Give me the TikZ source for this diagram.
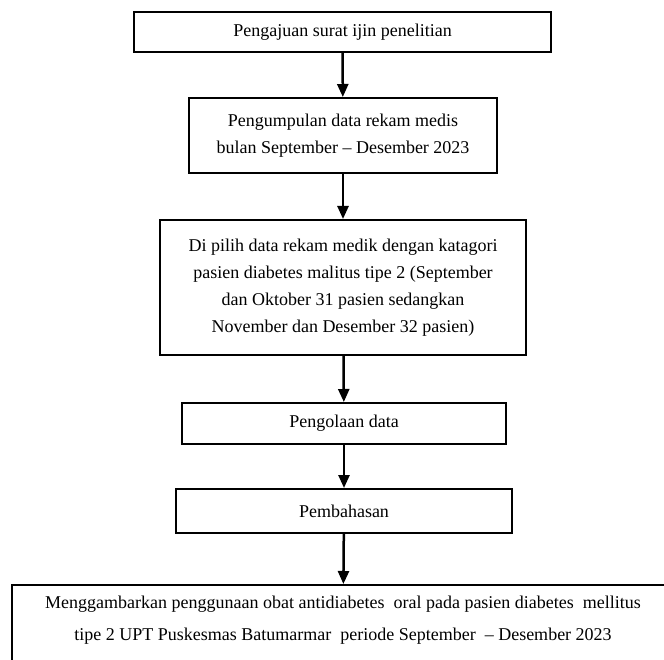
\documentclass[tikz,border=0pt]{standalone}
\usepackage{fontspec}
\setmainfont{Liberation Serif}
\usepackage{tikz}
\usetikzlibrary{arrows.meta}
\usetikzlibrary{positioning}

\begin{document}
\begin{tikzpicture}[x=1pt,y=-1pt]
		\useasboundingbox (0,0) rectangle (664,660);
		\clip (0,0) rectangle (664,660);
		\begin{scope}[every node/.style={rectangle,draw,line width=2pt,inner sep=0pt,align=center,font=\fontsize{18}{27}\selectfont}]
			\node[minimum width=417,minimum height=40] (ijin) at (342.5,32) {Pengajuan surat ijin penelitian};
			\node[minimum width=308,minimum height=75] (kumpul) at (343,135.5) {Pengumpulan data rekam medis\\bulan September – Desember 2023};
			\node[minimum width=366,minimum height=135] (pilih) at (343,287.5) {Di pilih data rekam medik dengan katagori\\pasien diabetes malitus tipe 2 (September\\dan Oktober 31 pasien sedangkan\\November dan Desember 32 pasien)};
			\node[minimum width=324,minimum height=41] (olah) at (344,423.5) {Pengolaan data};
			\node[minimum width=336,minimum height=44] (bahas) at (344,511) {Pembahasan};
			\node[minimum width=662,anchor=north,inner ysep=11pt,text depth=22pt,font=\fontsize{18}{32}\selectfont] (hasil) at (343,584) {Menggambarkan penggunaan obat antidiabetes~ oral pada pasien diabetes~ mellitus\\tipe 2 UPT Puskesmas Batumarmar~ periode September~ – Desember 2023};
		\end{scope}
		\begin{scope}[>={Triangle[length=13pt,width=11pt]},line width=2.5pt]
			\path (ijin) edge[->] (kumpul);
			\path (kumpul) edge[->] (pilih);
			\path (pilih) edge[->] (olah);
			\path (olah) edge[->] (bahas);
			\path (bahas) edge[->] (hasil);
		\end{scope}
	\end{tikzpicture}
\end{document}
